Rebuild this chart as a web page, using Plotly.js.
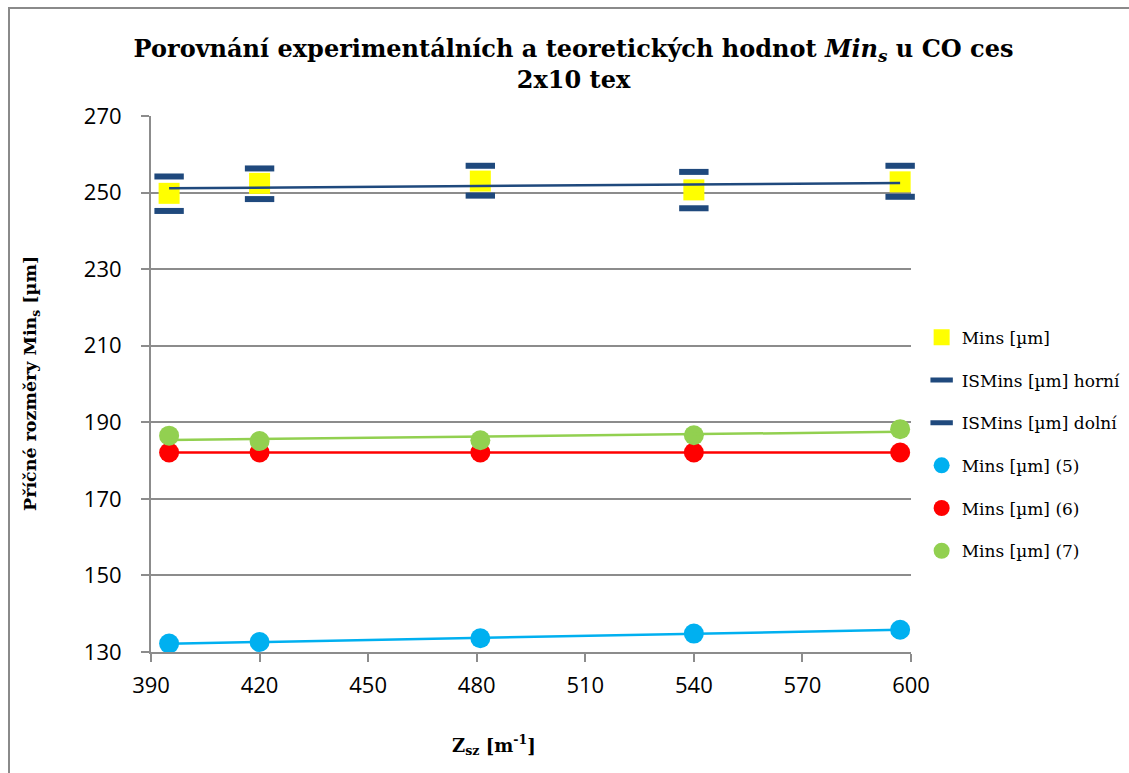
<!DOCTYPE html>
<html><head><meta charset="utf-8">
<script src="https://cdn.plot.ly/plotly-3.0.1.min.js"></script>
<style>
html,body{margin:0;padding:0;background:#fff;overflow:hidden;width:1129px;height:773px;}
#chart{position:absolute;left:0;top:0;width:1129px;height:773px;}
#frame{position:absolute;left:8px;top:7px;width:1119px;height:764px;border-left:2px solid #8a8a8a;border-top:2px solid #8a8a8a;pointer-events:none;}
</style>
</head><body><div id="chart"></div><div id="frame"></div>
<script>
// Data
const zsz = [395, 420, 481, 540, 597];
const minsExp = [249.8, 252.4, 253.0, 250.7, 252.8];
const isHorni = [254.2, 256.3, 257.0, 255.4, 257.0];
const isDolni = [245.2, 248.3, 249.2, 245.9, 248.9];
const mins5 = [132.2, 132.6, 133.6, 134.8, 135.8];
const mins6 = [182.1, 182.1, 182.1, 182.1, 182.1];
const mins7 = [186.5, 185.1, 185.3, 186.6, 188.2];
const xTicks = [390, 420, 450, 480, 510, 540, 570, 600];
const yTicks = [130, 150, 170, 190, 210, 230, 250, 270];

function trend(x, y) {
  const n = x.length;
  const mx = x.reduce((a, b) => a + b, 0) / n;
  const my = y.reduce((a, b) => a + b, 0) / n;
  let sxy = 0, sxx = 0;
  for (let i = 0; i < n; i++) { sxy += (x[i] - mx) * (y[i] - my); sxx += (x[i] - mx) ** 2; }
  const b = sxy / sxx, a = my - b * mx;
  const xs = [Math.min(...x), Math.max(...x)];
  return { x: xs, y: xs.map(v => a + b * v) };
}

const serif = "DejaVu Serif";
const cYellow = "#FFFF00", cNavy = "#1F497D", cCyan = "#00B0F0", cRed = "#FF0000", cGreen = "#92D050";

function pts(name, y, color, symbol, size, lw, grp) {
  const m = { color: color, size: size, symbol: symbol };
  if (symbol === "line-ew") m.line = { color: color, width: lw };
  return { type: "scatter", mode: "markers", name: name, x: zsz, y: y, marker: m, legendgroup: grp, cliponaxis: false, hoverinfo: "x+y+name" };
}
function tl(y, color, w) {
  const t = trend(zsz, y);
  return { type: "scatter", mode: "lines", x: t.x, y: t.y, line: { color: color, width: w }, showlegend: false, hoverinfo: "skip" };
}

const data = [
  pts("Mins [µm]", minsExp, cYellow, "square", 21, 0, "g1"),
  pts("ISMins [µm] horní", isHorni, cNavy, "line-ew", 21, 6, "g2"),
  pts("ISMins [µm] dolní", isDolni, cNavy, "line-ew", 21, 6, "g3"),
  pts("Mins [µm] (5)", mins5, cCyan, "circle", 20, 0, "g4"),
  pts("Mins [µm] (6)", mins6, cRed, "circle", 20, 0, "g5"),
  pts("Mins [µm] (7)", mins7, cGreen, "circle", 20, 0, "g6"),
  tl(minsExp, cNavy, 2.5),
  tl(mins5, cCyan, 2.5),
  tl(mins6, cRed, 2.5),
  tl(mins7, cGreen, 2.5)
];

const tickFont = { family: "Open Sans", size: 22, color: "#000" };
const gridC = "#8c8c8c";
const layout = {
  width: 1129, height: 773,
  margin: { l: 151, r: 218, t: 116, b: 121, pad: 0, autoexpand: false },
  paper_bgcolor: "rgba(0,0,0,0)", plot_bgcolor: "#fff",
  showlegend: true,
  title: {
    text: "Porovnání experimentálních a teoretických hodnot <i>Min<sub>s</sub></i> u CO ces<br>2x10 tex",
    font: { family: serif, size: 24, color: "#000", weight: "bold" },
    x: 0.508, xref: "container", xanchor: "center",
    y: 1 - 57 / 773, yref: "container", yanchor: "top"
  },
  xaxis: {
    range: [390, 600], tickvals: xTicks, ticktext: xTicks.map(String),
    showgrid: false, zeroline: false, showline: true, linecolor: gridC, linewidth: 2,
    ticks: "outside", ticklen: 8, tickwidth: 2, tickcolor: gridC, tickfont: tickFont,
    ticklabelstandoff: 5
  },
  yaxis: {
    range: [130, 270], tickvals: yTicks, ticktext: yTicks.map(String),
    showgrid: true, gridcolor: gridC, gridwidth: 2, zeroline: false,
    showline: true, linecolor: gridC, linewidth: 2,
    ticks: "outside", ticklen: 8, tickwidth: 2, tickcolor: gridC, tickfont: tickFont,
    ticklabelstandoff: 15
  },
  legend: {
    x: 1.014, xanchor: "left", y: 0.62, yanchor: "top",
    font: { family: serif, size: 17, color: "#000" },
    traceorder: "grouped", tracegroupgap: 17.6,
    bgcolor: "rgba(0,0,0,0)", itemwidth: 30
  },
  annotations: [
    {
      text: "Příčné rozměry Min<sub>s</sub> [µm]", textangle: -90,
      xref: "paper", yref: "paper", x: -(151 - 31) / 760, y: 0.5,
      xanchor: "center", yanchor: "middle", showarrow: false,
      font: { family: serif, size: 17.5, color: "#000", weight: "bold" }
    },
    {
      text: "Z<sub>sz</sub> [m<sup>-1</sup>]",
      xref: "paper", yref: "paper", x: (494 - 151) / 760, y: -(745 - 652) / 536,
      xanchor: "center", yanchor: "middle", showarrow: false,
      font: { family: serif, size: 18, color: "#000", weight: "bold" }
    }
  ]
};

Plotly.newPlot("chart", data, layout, { displayModeBar: false, staticPlot: true });
</script>
</body></html>
